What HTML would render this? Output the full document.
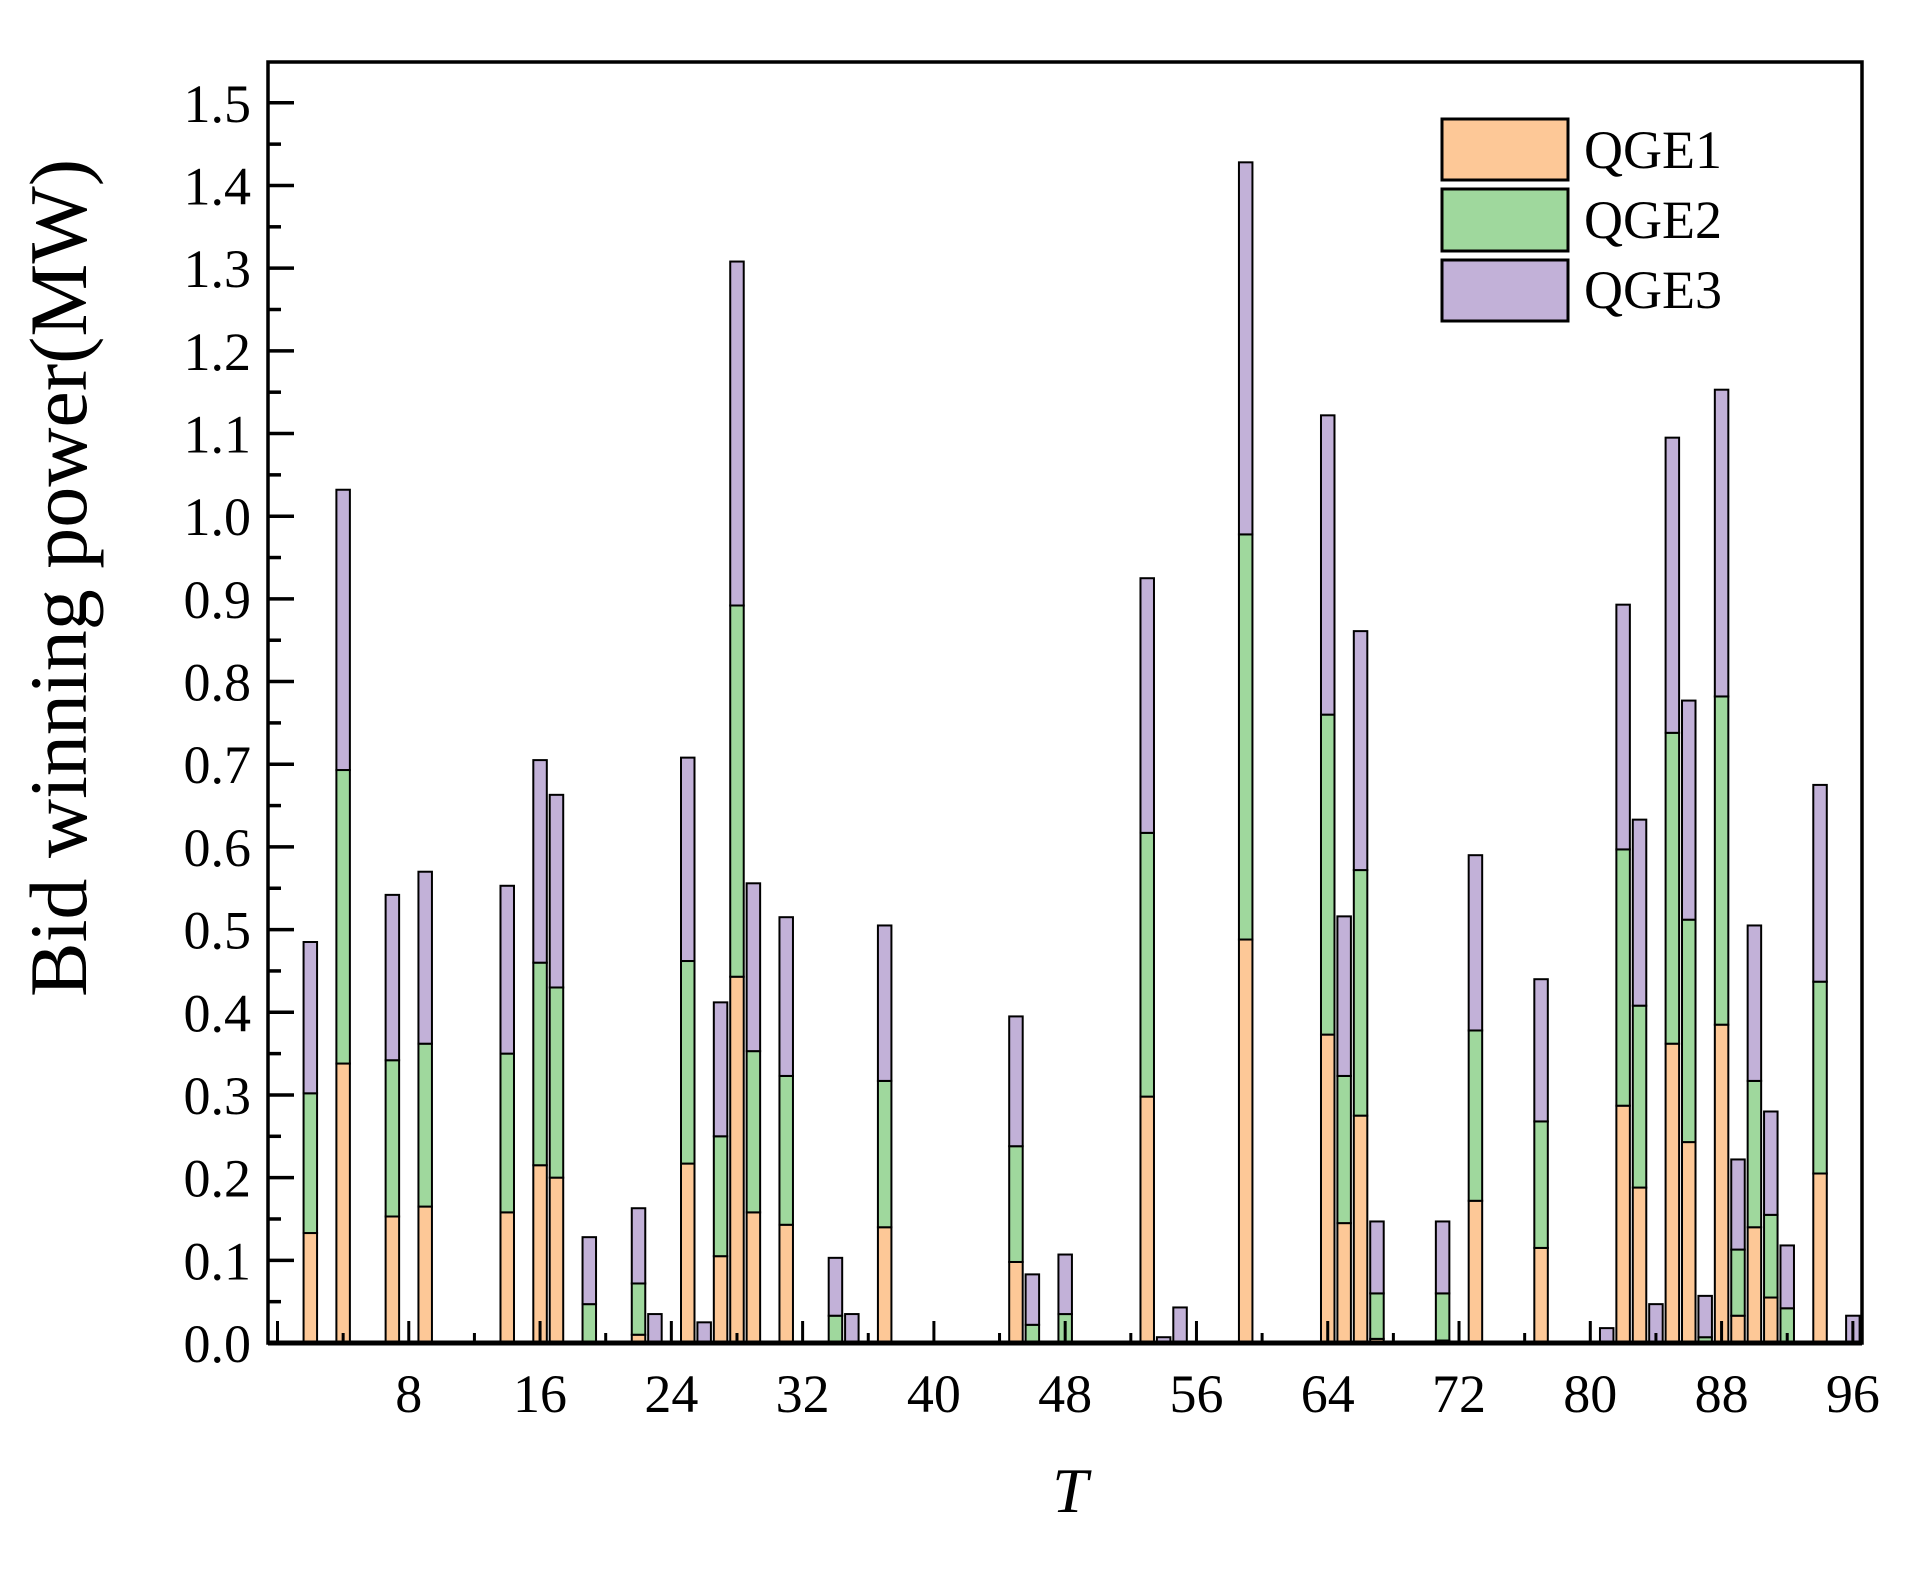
<!DOCTYPE html>
<html><head><meta charset="utf-8">
<style>html,body{margin:0;padding:0;background:#fff;}svg{display:block;font-family:"Liberation Serif",serif;}</style>
</head><body>
<svg id="chart" width="1919" height="1573" viewBox="0 0 1919 1573" xmlns="http://www.w3.org/2000/svg">
<g id="bars"></g>
<g id="axes"></g>
<g id="legend">
  <rect x="1442" y="119" width="126" height="61" fill="#fdc897" stroke="#000" stroke-width="3"/>
  <text x="1584" y="168" font-size="54">QGE1</text>
  <rect x="1442" y="189" width="126" height="62" fill="#9fd89d" stroke="#000" stroke-width="3"/>
  <text x="1584" y="238" font-size="54">QGE2</text>
  <rect x="1442" y="260" width="126" height="61" fill="#c2b1d8" stroke="#000" stroke-width="3"/>
  <text x="1584" y="308" font-size="54">QGE3</text>
</g>
<text x="1070" y="1512" font-size="64" font-style="italic" text-anchor="middle">T</text>
<text transform="translate(86,578) rotate(-90)" font-size="82" text-anchor="middle">Bid winning power(MW)</text>
</svg>
<script>
const periods = [2,4,7,9,14,16,17,19,22,23,25,26,27,28,29,31,34,35,37,45,46,48,53,54,55,59,64,65,66,67,71,73,77,81,82,83,84,85,86,87,88,89,90,91,92,94,96];
const qge1 = [0.133,0.338,0.153,0.165,0.158,0.215,0.200,0,0.010,0,0.217,0,0.105,0.443,0.158,0.143,0,0,0.140,0.098,0,0,0.298,0,0,0.488,0.373,0.145,0.275,0.005,0.003,0.172,0.115,0,0.287,0.188,0,0.362,0.243,0,0.385,0.033,0.140,0.055,0,0.205,0];
const qge2 = [0.169,0.355,0.189,0.197,0.192,0.245,0.230,0.047,0.062,0,0.245,0,0.145,0.449,0.195,0.180,0.033,0,0.177,0.140,0.022,0.035,0.319,0,0,0.490,0.387,0.178,0.297,0.055,0.057,0.206,0.153,0,0.310,0.220,0,0.376,0.269,0.007,0.397,0.080,0.177,0.100,0.042,0.232,0];
const qge3 = [0.183,0.339,0.200,0.208,0.203,0.245,0.233,0.081,0.091,0.035,0.246,0.025,0.162,0.416,0.203,0.192,0.070,0.035,0.188,0.157,0.061,0.072,0.308,0.007,0.043,0.450,0.362,0.193,0.289,0.087,0.087,0.212,0.172,0.018,0.296,0.225,0.047,0.357,0.265,0.050,0.371,0.109,0.188,0.125,0.076,0.238,0.033];
const yTicks = ["0.0","0.1","0.2","0.3","0.4","0.5","0.6","0.7","0.8","0.9","1.0","1.1","1.2","1.3","1.4","1.5"];
const xTicks = [8,16,24,32,40,48,56,64,72,80,88,96];

const NS = "http://www.w3.org/2000/svg";
const L = 268, R = 1862, T = 62, B = 1343;
function xs(t){ return 277.5 + t * 16.41; }
function ys(v){ return 1343 - v * 826.8; }
const bw = 13.5;
function mk(tag, attrs, parent){
  const e = document.createElementNS(NS, tag);
  for (const k in attrs) e.setAttribute(k, attrs[k]);
  parent.appendChild(e);
  return e;
}
const bars = document.getElementById('bars');
const series = [qge1, qge2, qge3];
const colors = ["#fdc897", "#9fd89d", "#c2b1d8"];
periods.forEach((p, i) => {
  let base = 0;
  series.forEach((s, k) => {
    const v = s[i];
    if (v > 0) {
      const r = mk('rect', {x: xs(p) - bw/2, y: ys(base + v), width: bw, height: ys(base) - ys(base + v), fill: colors[k], stroke: '#000', 'stroke-width': 2}, bars);
      
      
    }
    base += v;
  });
});
const axes = document.getElementById('axes');
const frame = mk('rect', {x: L, y: T, width: R - L, height: B - T, fill: 'none', stroke: '#000', 'stroke-width': 3.5}, axes);


const xline = mk('line', {x1: L, x2: R, y1: B, y2: B, stroke: '#000', 'stroke-width': 5}, axes);


yTicks.forEach((lab, i) => {
  const v = parseFloat(lab);
  const t = mk('line', {x1: L, x2: L + 26, y1: ys(v), y2: ys(v), stroke: '#000', 'stroke-width': 3.5}, axes);
  
  
  if (i < yTicks.length - 1) {
    const m = mk('line', {x1: L, x2: L + 13, y1: ys(v + 0.05), y2: ys(v + 0.05), stroke: '#000', 'stroke-width': 3.5}, axes);
    
    
  }
  const tx = mk('text', {x: 251, y: ys(v) + 19, 'font-size': 54, 'text-anchor': 'end'}, axes);
  tx.textContent = lab;
  
  
});
for (let t = 0; t <= 96; t += 4) {
  const len = (t % 8 === 0) ? 22 : 10;
  const k = mk('line', {x1: xs(t), x2: xs(t), y1: B, y2: B - len, stroke: '#000', 'stroke-width': 3}, axes);
  
  
}
xTicks.forEach(t => {
  const tx = mk('text', {x: xs(t), y: 1412, 'font-size': 54, 'text-anchor': 'middle'}, axes);
  tx.textContent = t;
  
  
});
</script>
</body></html>
